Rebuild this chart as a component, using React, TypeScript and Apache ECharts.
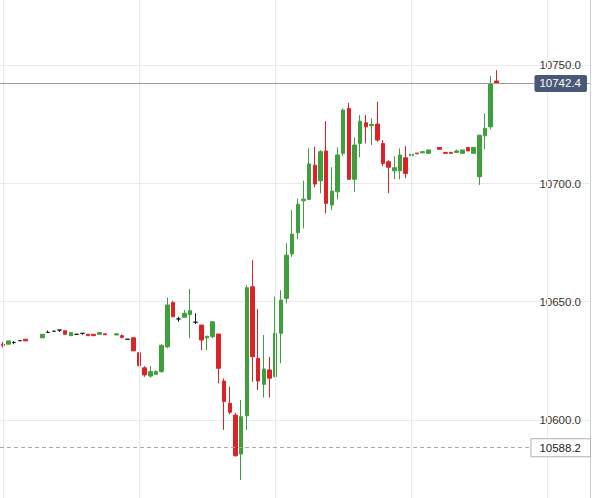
import React, { useEffect, useRef } from "react";
import * as echarts from "echarts";

// 104 time slots (5-min bars); bars after index 87 are empty
const slotCount = 104;
const categories: string[] = Array.from({ length: slotCount }, (_, i) => String(i));

const openVals: (number | null)[] = [
  10632.0, 10632.0, 10632.7, 10633.5, 10634.1, null, null, 10634.7, 10637.0, 10637.5,
  10638.0, 10637.7, 10635.6, 10636.2, 10636.6, 10636.2, 10636.2, 10636.2, 10636.4, null,
  10635.9, 10635.6, 10634.1, 10634.7, 10628.4, 10622.0, 10618.5, 10619.3, 10620.4, 10630.9,
  10649.6, 10642.7, 10643.4, 10644.6, 10641.3, 10640.1, 10634.7, 10635.2, 10636.3, 10616.4,
  10607.0, 10602.0, 10585.5, 10601.7, 10656.3, 10626.0, 10615.0, 10621.1, 10618.2, 10636.6,
  10651.4, 10670.2, 10679.2, 10692.7, 10693.3, 10707.8, 10701.2, 10713.8, 10690.9, 10696.5,
  10712.8, 10731.8, 10701.8, 10717.0, 10725.7, 10724.5, 10725.2, 10717.0, 10709.2, 10705.4,
  10705.4, 10710.9, 10711.8, 10712.9, 10713.0, 10712.8, null, 10715.3, 10713.2, 10713.2,
  10713.2, 10712.8, 10715.3, 10712.8, 10702.9, 10720.2, 10724.0, 10743.4,
];
const closeVals: (number | null)[] = [
  10631.5, 10633.4, 10632.7, 10633.5, 10633.4, null, null, 10636.2, 10637.0, 10637.5,
  10638.0, 10636.2, 10636.9, 10636.2, 10636.6, 10635.6, 10635.6, 10636.9, 10636.0, null,
  10636.4, 10634.9, 10634.1, 10629.2, 10622.9, 10619.0, 10620.4, 10620.4, 10631.5, 10648.6,
  10643.6, 10642.7, 10645.1, 10646.2, 10641.3, 10633.8, 10635.4, 10641.5, 10621.8, 10607.7,
  10603.2, 10584.8, 10601.3, 10655.9, 10626.7, 10616.4, 10621.5, 10617.6, 10636.6, 10650.7,
  10669.7, 10678.6, 10691.2, 10693.4, 10708.3, 10699.8, 10713.5, 10691.6, 10696.8, 10712.1,
  10731.1, 10701.8, 10716.3, 10726.4, 10724.0, 10725.0, 10718.4, 10708.5, 10706.9, 10706.7,
  10712.1, 10704.3, 10712.4, 10712.6, 10713.5, 10714.2, null, 10714.5, 10712.8, 10712.8,
  10713.8, 10714.2, 10713.8, 10715.3, 10720.5, 10723.4, 10742.1, 10742.4,
];
const lowVals: (number | null)[] = [
  10630.6, 10632.0, 10632.0, 10633.5, 10633.4, null, null, 10634.7, 10637.0, 10637.5,
  10637.2, 10636.2, 10635.6, 10636.2, 10636.0, 10635.6, 10635.6, 10636.2, 10636.0, null,
  10635.9, 10634.4, 10634.1, 10629.0, 10622.9, 10618.2, 10617.8, 10619.3, 10619.9, 10630.3,
  10643.6, 10641.5, 10643.4, 10634.5, 10640.6, 10629.5, 10629.5, 10634.5, 10615.4, 10595.7,
  10602.3, 10584.4, 10574.5, 10595.7, 10616.1, 10612.6, 10609.4, 10609.4, 10618.0, 10623.9,
  10649.3, 10669.0, 10676.4, 10681.0, 10693.0, 10698.4, 10695.9, 10687.4, 10688.8, 10693.3,
  10711.6, 10701.8, 10696.5, 10711.1, 10717.0, 10716.3, 10717.7, 10707.4, 10695.9, 10701.8,
  10701.8, 10702.3, 10711.4, 10712.6, 10713.0, 10712.8, null, 10714.5, 10712.8, 10712.8,
  10713.2, 10712.8, 10713.8, 10712.8, 10699.4, 10714.5, 10723.0, 10742.4,
];
const highVals: (number | null)[] = [
  10632.9, 10633.4, 10633.4, 10633.5, 10634.1, null, null, 10636.2, 10637.8, 10637.5,
  10638.0, 10637.7, 10636.9, 10636.2, 10636.6, 10636.2, 10636.2, 10636.9, 10636.4, null,
  10636.4, 10636.2, 10634.1, 10634.9, 10628.4, 10622.7, 10622.7, 10621.0, 10632.0, 10651.8,
  10650.4, 10643.6, 10646.5, 10655.4, 10645.1, 10640.1, 10635.4, 10641.5, 10636.3, 10617.5,
  10614.0, 10603.0, 10608.4, 10657.0, 10667.6, 10646.9, 10635.9, 10626.7, 10652.1, 10654.9,
  10674.7, 10688.8, 10693.7, 10701.2, 10714.9, 10715.6, 10714.2, 10726.4, 10706.9, 10715.3,
  10731.8, 10734.2, 10719.6, 10729.0, 10729.0, 10727.6, 10734.6, 10718.4, 10709.9, 10711.6,
  10714.9, 10715.9, 10712.8, 10712.9, 10713.5, 10714.2, null, 10715.3, 10713.2, 10713.2,
  10714.4, 10714.2, 10715.3, 10715.3, 10720.5, 10729.7, 10745.6, 10748.0,
];

const lastPrice = 10742.4;
const refPrice = 10588.2;
const gridSlots = [0, 24, 48, 72, 96];
const yRange = { min: 10566.9, max: 10777.7 };

const UP = "#3e9f3c";
const DOWN = "#dc2229";
const FONT = "'Liberation Sans', Arial, sans-serif";

export default function App() {
  const ref = useRef<HTMLDivElement>(null);
  useEffect(() => {
    if (!ref.current) return;
    const chart = echarts.init(ref.current, undefined, { renderer: "svg" });
    const candleData = categories.map((_, i) => {
      const o = openVals[i];
      if (o === null || o === undefined) return "-";
      return [o, closeVals[i], lowVals[i], highVals[i]];
    });
    chart.setOption({
      animation: false,
      textStyle: { fontFamily: FONT },
      grid: { left: 0, right: 5, top: 0, bottom: 0, containLabel: false },
      xAxis: {
        type: "category",
        data: categories,
        boundaryGap: true,
        axisLine: { show: false },
        axisTick: { show: false },
        axisLabel: { show: false },
        splitLine: { show: false },
      },
      yAxis: {
        type: "value",
        position: "right",
        min: yRange.min,
        max: yRange.max,
        splitNumber: 4,
        axisLine: { show: true, lineStyle: { color: "#cfcfcf", width: 1 } },
        axisTick: { show: false },
        axisLabel: {
          inside: true,
          margin: 9,
          color: "#333",
          fontSize: 11.5,
          fontFamily: FONT,
          showMinLabel: false,
          showMaxLabel: false,
          formatter: (v: number) => v.toFixed(1),
        },
        splitLine: {
          show: true,
          showMinLine: false,
          showMaxLine: false,
          lineStyle: { color: "#ebebeb", width: 1 },
        },
      },
      series: [
        {
          type: "line",
          data: [],
          z: 1,
          silent: true,
          markLine: {
            silent: true,
            symbol: ["none", "none"],
            label: { show: false },
            lineStyle: { color: "#ebebeb", type: "solid", width: 1 },
            data: gridSlots.map((s) => ({ xAxis: s })),
          },
        },
        {
          type: "candlestick",
          data: candleData,
          barWidth: 4,
          clip: false,
          z: 3,
          itemStyle: {
            color: UP,
            color0: DOWN,
            borderColor: UP,
            borderColor0: DOWN,
            borderColorDoji: "#1c1c1c",
            borderWidth: 1,
          },
          markLine: {
            silent: true,
            symbol: ["none", "none"],
            data: [
              {
                yAxis: lastPrice,
                lineStyle: { color: "#9c9c9c", type: "solid", width: 1 },
                label: {
                  show: true,
                  position: "insideEnd",
                  distance: 3,
                  formatter: lastPrice.toFixed(1),
                  color: "#ffffff",
                  fontSize: 11.5,
                  fontFamily: FONT,
                  backgroundColor: "#4a5877",
                  borderRadius: 2,
                  padding: [3, 6, 2, 5],
                },
              },
              {
                yAxis: refPrice,
                lineStyle: { color: "#a8a8a8", type: [4, 3], width: 1 },
                label: {
                  show: true,
                  position: "insideEnd",
                  distance: 0,
                  formatter: refPrice.toFixed(1),
                  color: "#222",
                  fontSize: 11.5,
                  fontFamily: FONT,
                  backgroundColor: "#ffffff",
                  borderColor: "#b0b0b0",
                  borderWidth: 1,
                  padding: [3, 9, 2, 8],
                },
              },
            ],
          },
        },
      ],
    });
    return () => chart.dispose();
  }, []);
  return (
    <div
      ref={ref}
      style={{ position: "fixed", left: 0, top: 0, width: 595, height: 498, background: "#fff" }}
    />
  );
}
